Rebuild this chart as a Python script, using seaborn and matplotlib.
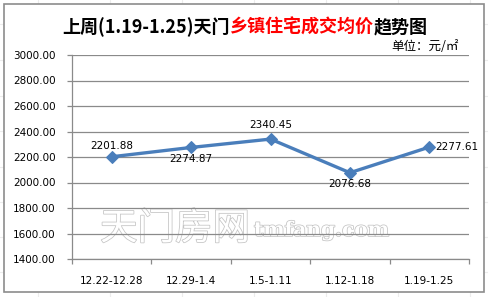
import matplotlib
matplotlib.use("Agg")
import matplotlib.pyplot as plt
import matplotlib.patheffects as pe
from matplotlib.patches import Rectangle
from matplotlib.ticker import FixedLocator, NullFormatter, FixedFormatter
from matplotlib.offsetbox import TextArea, HPacker, AnchoredOffsetbox
import seaborn as sns
import pandas as pd

categories = ["12.22-12.28", "12.29-1.4", "1.5-1.11", "1.12-1.18", "1.19-1.25"]
prices = [2201.88, 2274.87, 2340.45, 2076.68, 2277.61]
y_ticks = [1400, 1600, 1800, 2000, 2200, 2400, 2600, 2800, 3000]

sns.set_theme(style="white")
plt.rcParams['font.family'] = ['DejaVu Sans', 'Noto Sans CJK SC']

W, H = 489, 297
fig = plt.figure(figsize=(W / 100, H / 100), dpi=100)
fig.patch.set_facecolor("white")

# faint spreadsheet grid outside the chart
for x in [38, 110, 182, 254, 326, 398, 470]:
    fig.add_artist(plt.Line2D([x / W, x / W], [0, 1], color="#ececec", lw=0.8, zorder=0))
for y in [24, 60, 96, 131, 167, 202, 237, 272]:
    fig.add_artist(plt.Line2D([0, 1], [1 - y / H, 1 - y / H], color="#ececec", lw=0.8, zorder=0))

# chart area
fig.add_artist(Rectangle((4 / W, 1 - 292 / H), 480 / W, 288 / H, transform=fig.transFigure,
                         facecolor="white", edgecolor="#8c8c8c", lw=1.2, zorder=1))

ax = fig.add_axes([72 / W, 1 - 259 / H, (469 - 72) / W, (259 - 55) / H], zorder=2)
ax.set_facecolor("none")

df = pd.DataFrame({"period": categories, "price": prices})
sns.lineplot(data=df, x="period", y="price", ax=ax, color="#4a7ebb", lw=2.4,
             marker="D", markersize=6.5, markeredgecolor="#4a7ebb", sort=False)

ax.set_xlim(-0.5, len(categories) - 0.5)
ax.set_ylim(1400, 3000)
ax.set_xlabel("")
ax.set_ylabel("")

FS = 7.5
ax.set_yticks(y_ticks)
ax.set_yticklabels([f"{v:.2f}" for v in y_ticks], fontsize=FS, color="black")
ax.yaxis.grid(True, color="#8a8a8a", lw=0.9)
ax.xaxis.grid(False)

ax.xaxis.set_major_locator(FixedLocator([i - 0.5 for i in range(len(categories) + 1)]))
ax.xaxis.set_major_formatter(NullFormatter())
ax.xaxis.set_minor_locator(FixedLocator(list(range(len(categories)))))
ax.xaxis.set_minor_formatter(FixedFormatter(categories))
ax.tick_params(axis="x", which="major", length=3.6, width=0.9, color="#8a8a8a", direction="out", bottom=True)
ax.tick_params(axis="x", which="minor", length=0, labelsize=FS, pad=12, labelcolor="black")
ax.tick_params(axis="y", which="major", length=3.6, width=0.9, color="#8a8a8a", direction="out", left=True, pad=8)

for s in ["top", "right"]:
    ax.spines[s].set_visible(False)
for s in ["left", "bottom"]:
    ax.spines[s].set_color("#8a8a8a")
    ax.spines[s].set_linewidth(0.9)

# data labels
offsets = [(0, 4.5, "center", "bottom"), (0, -5, "center", "top"), (0, 6.5, "center", "bottom"),
           (0, -4.5, "center", "top"), (4, 0, "left", "center")]
for i, (v, (dx, dy, ha, va)) in enumerate(zip(prices, offsets)):
    ax.annotate(f"{v:.2f}", (i, v), xytext=(dx, dy), textcoords="offset points",
                ha=ha, va=va, fontsize=FS, color="black")

# watermark
wm = dict(color="white", path_effects=[pe.withStroke(linewidth=1.1, foreground="#c4c4c4")], zorder=1)
fig.text(100 / W, 1 - 229 / H, "天门房网", fontsize=27, family=["Noto Sans CJK SC"],
         ha="left", va="center", **wm)
fig.text(254 / W, 1 - 230 / H, "tmfang.com", fontsize=14.5, family=["DejaVu Serif"],
         weight="bold", ha="left", va="center", **wm)

# title
tparts = [("上周(1.19-1.25)天门", "black"), ("乡镇住宅成交均价", "#ff0000"), ("趋势图", "black")]
boxes = [TextArea(t, textprops=dict(color=c, fontsize=13, weight="bold",
                                    family=["Noto Sans CJK SC", "DejaVu Sans"])) for t, c in tparts]
pack = HPacker(children=boxes, align="baseline", pad=0, sep=0)
ab = AnchoredOffsetbox(loc="center", child=pack, frameon=False,
                       bbox_to_anchor=(245 / W, 1 - 27 / H), bbox_transform=fig.transFigure, pad=0)
fig.add_artist(ab)

fig.text(459 / W, 1 - 46 / H, "单位：元/㎡", fontsize=9, ha="right", va="center",
         family=["Noto Sans CJK SC", "DejaVu Sans"], color="black")

fig.savefig("out.png", dpi=100)
